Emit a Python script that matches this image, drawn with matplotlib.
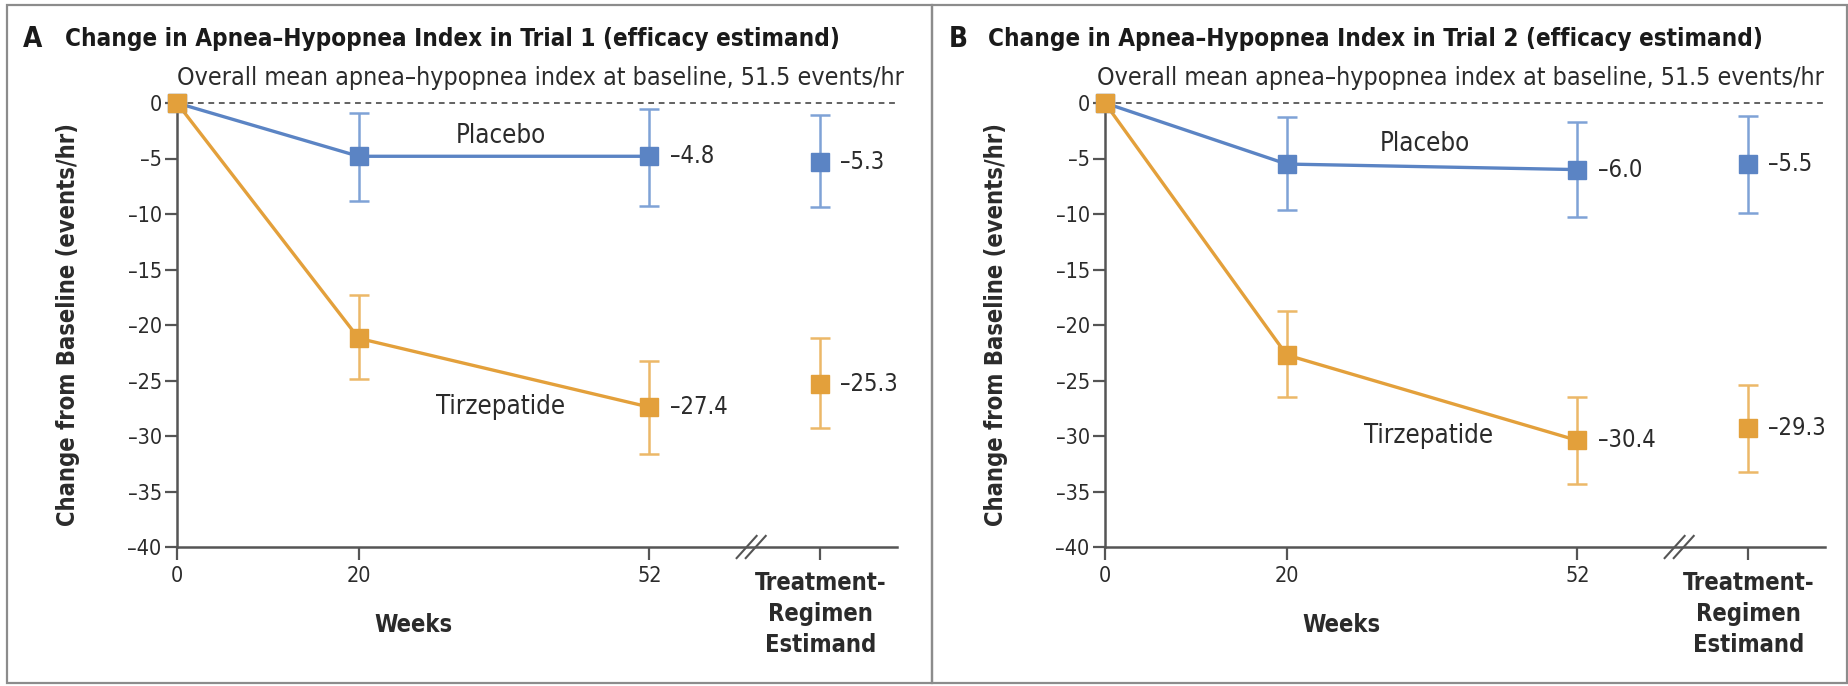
import os
import matplotlib
matplotlib.use("Agg")
import matplotlib.pyplot as plt
from matplotlib import font_manager as fm
from matplotlib.patches import Rectangle
from matplotlib.lines import Line2D

# ---------------------------------------------------------------- data
weeks = [0, 20, 52]
tr_x = 70.8            # position of the treatment-regimen estimand column
break_x = 63.2         # axis break marker

panel_letters = ["A", "B"]
panel_titles = [
    "Change in Apnea\u2013Hypopnea Index in Trial 1 (efficacy estimand)",
    "Change in Apnea\u2013Hypopnea Index in Trial 2 (efficacy estimand)",
]
baseline_note = "Overall mean apnea\u2013hypopnea index at baseline, 51.5 events/hr"

# Trial 1
placebo_1 = [0, -4.8, -4.8]
placebo_1_lo = [0, -8.8, -9.3]
placebo_1_hi = [0, -0.9, -0.5]
placebo_1_tr = -5.3
placebo_1_tr_ci = (-9.4, -1.1)

tirz_1 = [0, -21.2, -27.4]
tirz_1_lo = [0, -24.9, -31.6]
tirz_1_hi = [0, -17.3, -23.2]
tirz_1_tr = -25.3
tirz_1_tr_ci = (-29.3, -21.2)

# Trial 2
placebo_2 = [0, -5.5, -6.0]
placebo_2_lo = [0, -9.6, -10.3]
placebo_2_hi = [0, -1.3, -1.7]
placebo_2_tr = -5.5
placebo_2_tr_ci = (-9.9, -1.2)

tirz_2 = [0, -22.7, -30.4]
tirz_2_lo = [0, -26.5, -34.3]
tirz_2_hi = [0, -18.7, -26.5]
tirz_2_tr = -29.3
tirz_2_tr_ci = (-33.2, -25.4)

y_ticks = [0, -5, -10, -15, -20, -25, -30, -35, -40]
x_tick_labels = ["0", "20", "52"]
series_names = ["Placebo", "Tirzepatide"]
name_pos_1 = [(35.6, -3.0), (35.6, -27.4)]
name_pos_2 = [(35.2, -3.7), (35.6, -30.0)]

# ---------------------------------------------------------------- style
BLUE = "#5b84c4"
BLUE_CI = "#7fa2d6"
ORANGE = "#e3a03b"
ORANGE_CI = "#ecb868"
TEXT = "#2b2b2b"
AXIS = "#555555"
FRAME = "#8c8c8c"


def _condensed_file(bold):
    """Find a narrow sans face on the system, regular or bold."""
    want = 700 if bold else 400
    order = ("liberationsansnarrow", "notosans", "dejavusans", "roboto", "opensans")
    pool = []
    for f in fm.fontManager.ttflist:
        base = os.path.basename(f.fname).lower().replace("-", "").replace("_", "")
        if any(k in base for k in ("italic", "oblique", "mono", "serif",
                                   "semicondensed", "extracondensed")):
            continue
        if "narrow" not in base and "condensed" not in base:
            continue
        rank = [i for i, k in enumerate(order) if base.startswith(k)]
        if not rank:
            continue
        w = f.weight if isinstance(f.weight, int) else {"normal": 400, "regular": 400, "bold": 700}.get(str(f.weight), 400)
        pool.append((rank[0], abs(w - want), f.fname))
    if pool:
        return min(pool)[2]
    return None


_REG = _condensed_file(False)
_BOLD = _condensed_file(True)


def font(size, bold=False):
    path = _BOLD if bold else _REG
    if path:
        return fm.FontProperties(fname=path, size=size)
    return fm.FontProperties(family="Roboto", weight="bold" if bold else "normal", size=size)


def dash(v, fmt="{:.1f}"):
    return fmt.format(v).replace("-", "\u2013")


W, H = 1849, 686
fig = plt.figure(figsize=(W / 100, H / 100), dpi=100)

# panel frames
for x0, x1 in [(7, 932), (932, 1847)]:
    fig.add_artist(Rectangle((x0 / W, 3 / H), (x1 - x0) / W, 678 / H,
                             transform=fig.transFigure, fill=False,
                             ec=FRAME, lw=1.6))

XMAX = 79.3
PX_PER_WK = 9.085
ax_w = XMAX * PX_PER_WK
ax_top, ax_bot = 103, 547

panels = [
    dict(left=177, letter_x=33, title_x=65, note_x=177,
         plac=(placebo_1, placebo_1_lo, placebo_1_hi, placebo_1_tr, placebo_1_tr_ci),
         tirz=(tirz_1, tirz_1_lo, tirz_1_hi, tirz_1_tr, tirz_1_tr_ci),
         names=name_pos_1),
    dict(left=1105, letter_x=958, title_x=988, note_x=1097,
         plac=(placebo_2, placebo_2_lo, placebo_2_hi, placebo_2_tr, placebo_2_tr_ci),
         tirz=(tirz_2, tirz_2_lo, tirz_2_hi, tirz_2_tr, tirz_2_tr_ci),
         names=name_pos_2),
]

for i, p in enumerate(panels):
    ax = fig.add_axes([p["left"] / W, 1 - ax_bot / H, ax_w / W, (ax_bot - ax_top) / H])
    ax.set_xlim(0, XMAX)
    ax.set_ylim(-40, 0)
    for s in ("top", "right"):
        ax.spines[s].set_visible(False)
    for s in ("left", "bottom"):
        ax.spines[s].set_color(AXIS)
        ax.spines[s].set_linewidth(1.8)

    ax.set_yticks(y_ticks)
    ax.set_yticklabels([dash(v, "{:.0f}") for v in y_ticks])
    ax.set_xticks(weeks + [tr_x])
    ax.set_xticklabels(x_tick_labels + [""])
    ax.tick_params(axis="both", colors=AXIS, width=1.6, length=9, labelcolor=TEXT)
    ax.tick_params(axis="y", pad=2)
    ax.tick_params(axis="x", pad=5)
    for lab in ax.get_xticklabels() + ax.get_yticklabels():
        lab.set_fontproperties(font(15.5))

    # baseline reference
    ax.plot([0, XMAX], [0, 0], ls=(0, (3.2, 2.6)), color="#555555", lw=1.3,
            clip_on=False, zorder=1)

    for (vals, lo, hi, tr, tr_ci), col, cicol in [
        (p["plac"], BLUE, BLUE_CI), (p["tirz"], ORANGE, ORANGE_CI)
    ]:
        ax.plot(weeks, vals, color=col, lw=2.4, zorder=3, clip_on=False)
        err = [[v - l for v, l in zip(vals[1:], lo[1:])],
               [h - v for v, h in zip(vals[1:], hi[1:])]]
        ax.errorbar(weeks[1:], vals[1:], yerr=err, fmt="none", ecolor=cicol,
                    elinewidth=1.8, capsize=7, capthick=1.8, zorder=2)
        ax.errorbar([tr_x], [tr], yerr=[[tr - tr_ci[0]], [tr_ci[1] - tr]],
                    fmt="none", ecolor=cicol, elinewidth=1.8, capsize=7,
                    capthick=1.8, zorder=2)
        ax.plot(weeks + [tr_x], vals + [tr], ls="none", marker="s", ms=13.5,
                mfc=col, mec=col, zorder=5, clip_on=False)
        for x, v in [(weeks[-1], vals[-1]), (tr_x, tr)]:
            ax.annotate(dash(v), (x, v), xytext=(14.5, 0), textcoords="offset points",
                        va="center", ha="left", color=TEXT, fontproperties=font(17))

    for name, (nx, ny) in zip(series_names, p["names"]):
        ax.text(nx, ny, name, ha="center", va="center", color=TEXT,
                fontproperties=font(18.5))

    # axis break marks
    for dx in (-0.5, 0.5):
        ax.add_line(Line2D([break_x + dx - 1.1, break_x + dx + 1.1], [-41.0, -39.0],
                           color=AXIS, lw=1.5, clip_on=False, zorder=6))

    ax.set_ylabel("Change from Baseline (events/hr)", color=TEXT,
                  fontproperties=font(17, bold=True))
    ax.yaxis.set_label_coords(-0.135, 0.5)

    ax.text(26, -0.176, "Weeks", transform=ax.get_xaxis_transform(),
            ha="center", va="center", color=TEXT, fontproperties=font(17, bold=True))
    ax.text(tr_x, -0.055, "Treatment-\nRegimen\nEstimand", transform=ax.get_xaxis_transform(),
            ha="center", va="top", color=TEXT, linespacing=1.35,
            fontproperties=font(17, bold=True))

    fig.text(p["note_x"] / W, 1 - 78 / H, baseline_note, ha="left", va="center",
             color=TEXT, fontproperties=font(17.9))

    fig.text(p["letter_x"] / W, 1 - 39 / H, panel_letters[i], ha="center", va="center",
             color="#1a1a1a", fontproperties=font(20, bold=True))
    fig.text(p["title_x"] / W, 1 - 39 / H, panel_titles[i], ha="left", va="center",
             color="#1a1a1a", fontproperties=font(17.4, bold=True))

fig.savefig("out.png", dpi=100, facecolor="white")
